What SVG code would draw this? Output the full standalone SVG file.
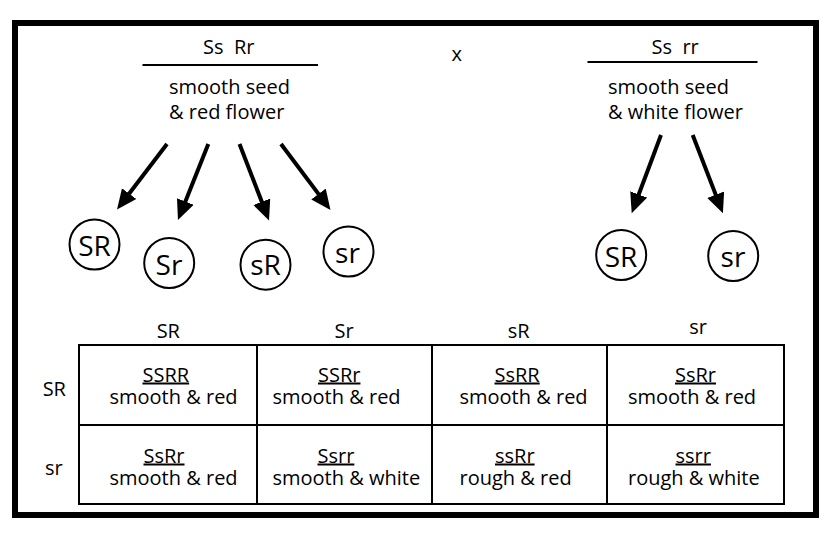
<svg xmlns="http://www.w3.org/2000/svg" width="832" height="540" viewBox="0 0 832 540">
<style>
text{font-family:"Open Sans","Noto Sans","Liberation Sans",sans-serif;font-size:20px;fill:#000}
.big{font-size:28px;text-anchor:middle}
.mid{text-anchor:middle}
.u{text-decoration:underline}
.node circle{fill:#fff;stroke:#000;stroke-width:2}
.grid line{stroke:#000;stroke-width:2}
.arr line{stroke:#000;stroke-width:4}
</style>
<defs>
<marker id="ah" markerUnits="userSpaceOnUse" markerWidth="22" markerHeight="20" refX="8" refY="9.5" orient="auto" viewBox="0 0 22 20">
<path d="M0,0.5 L20,9.5 L0,18.5 z" fill="#000"/>
</marker>
</defs>
<rect x="0" y="0" width="832" height="540" fill="#fff"/>
<rect x="15" y="23" width="801" height="492" fill="none" stroke="#000" stroke-width="6"/>

<g id="parent1">
<text x="203" y="54" xml:space="preserve">Ss  Rr</text>
<line x1="142.5" y1="65" x2="318" y2="65" stroke="#000" stroke-width="2"/>
<text x="169" y="94">smooth seed<tspan x="169" y="119">&amp; red flower</tspan></text>
</g>
<g id="cross"><text x="451.5" y="61">x</text></g>
<g id="parent2">
<text x="651.5" y="53.5" xml:space="preserve">Ss  rr</text>
<line x1="587.5" y1="62" x2="757.5" y2="62" stroke="#000" stroke-width="2"/>
<text x="608" y="94">smooth seed<tspan x="608" y="119">&amp; white flower</tspan></text>
</g>

<g id="connectors" class="arr">
<line x1="167" y1="144" x2="124.3" y2="200" marker-end="url(#ah)"/>
<line x1="208.3" y1="144" x2="182.4" y2="208.9" marker-end="url(#ah)"/>
<line x1="239.5" y1="144" x2="264.7" y2="209.3" marker-end="url(#ah)"/>
<line x1="281" y1="144" x2="323.3" y2="200.4" marker-end="url(#ah)"/>
<line x1="661" y1="135" x2="635.9" y2="202" marker-end="url(#ah)"/>
<line x1="692.7" y1="135" x2="718.6" y2="202.1" marker-end="url(#ah)"/>
</g>

<g id="g1" class="node"><circle cx="94.5" cy="244.5" r="25"/><text class="big" x="94.5" y="256">SR</text></g>
<g id="g2" class="node"><circle cx="169.2" cy="263" r="25"/><text class="big" x="169" y="274.5">Sr</text></g>
<g id="g3" class="node"><circle cx="265.5" cy="264.7" r="25"/><text class="big" x="265.5" y="275">sR</text></g>
<g id="g4" class="node"><circle cx="348.5" cy="251.5" r="25"/><text class="big" x="347.5" y="263">sr</text></g>
<g id="g5" class="node"><circle cx="621.2" cy="255" r="25"/><text class="big" x="621" y="266.5">SR</text></g>
<g id="g6" class="node"><circle cx="733.2" cy="256" r="25"/><text class="big" x="733" y="267">sr</text></g>

<g id="punnett">
<g class="grid">
<line x1="78" y1="345" x2="785" y2="345"/>
<line x1="78" y1="425" x2="785" y2="425"/>
<line x1="78" y1="504" x2="785" y2="504"/>
<line x1="79" y1="344" x2="79" y2="505"/>
<line x1="257" y1="344" x2="257" y2="505"/>
<line x1="432" y1="344" x2="432" y2="505"/>
<line x1="607" y1="344" x2="607" y2="505"/>
<line x1="784" y1="344" x2="784" y2="505"/>
</g>
<text class="mid" x="168.3" y="337.5">SR</text>
<text class="mid" x="344" y="337.5">Sr</text>
<text class="mid" x="518.7" y="337.5">sR</text>
<text class="mid" x="698" y="333.5">sr</text>
<text class="mid" x="54.3" y="396">SR</text>
<text class="mid" x="53.8" y="475">sr</text>

<text x="142.5" y="381.5"><tspan class="u">SSRR</tspan><tspan x="109.5" y="404">smooth &amp; red</tspan></text>
<text x="318" y="381.5"><tspan class="u">SSRr</tspan><tspan x="272.5" y="404">smooth &amp; red</tspan></text>
<text x="494.5" y="381.5"><tspan class="u">SsRR</tspan><tspan x="459.5" y="404">smooth &amp; red</tspan></text>
<text x="675" y="381.5"><tspan class="u">SsRr</tspan><tspan x="628" y="404">smooth &amp; red</tspan></text>

<text x="143.5" y="462.5"><tspan class="u">SsRr</tspan><tspan x="109.5" y="485">smooth &amp; red</tspan></text>
<text x="317.5" y="462.5"><tspan class="u">Ssrr</tspan><tspan x="272.5" y="485">smooth &amp; white</tspan></text>
<text x="495" y="462.5"><tspan class="u">ssRr</tspan><tspan x="459.5" y="485">rough &amp; red</tspan></text>
<text x="675.5" y="462.5"><tspan class="u">ssrr</tspan><tspan x="628" y="485">rough &amp; white</tspan></text>
</g>
</svg>
